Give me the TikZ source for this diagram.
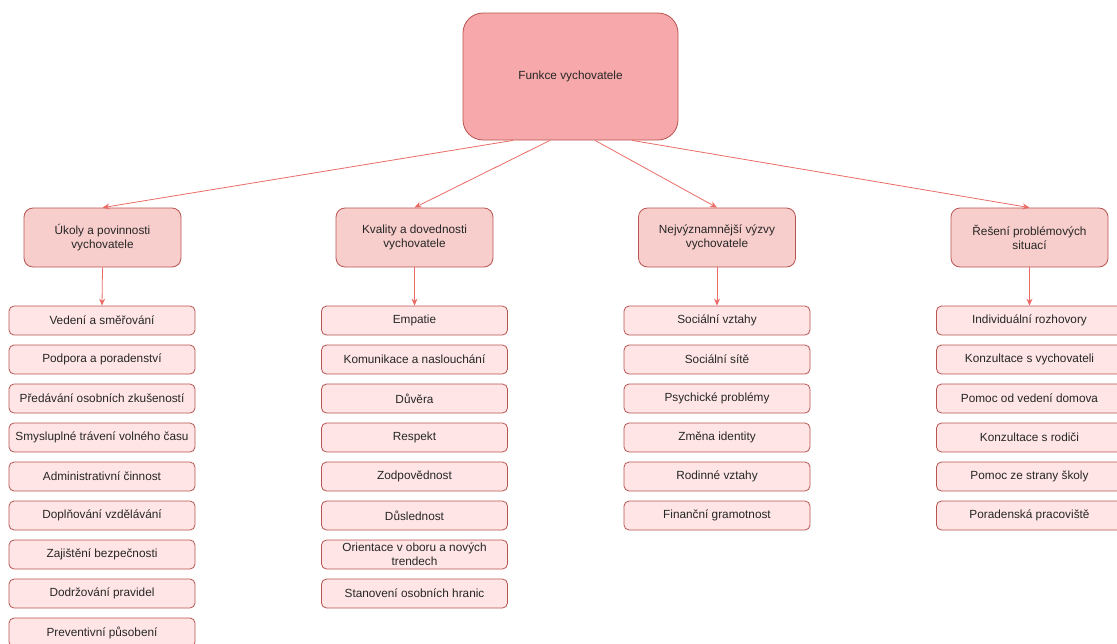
\documentclass[tikz,border=0pt]{standalone}
\usepackage{fontspec}
\setmainfont{Liberation Sans}
\usetikzlibrary{arrows.meta}
\definecolor{topfill}{HTML}{F7A8AA}
\definecolor{catfill}{HTML}{F8CECC}
\definecolor{itemfill}{HTML}{FFE5E5}
\definecolor{bord}{HTML}{B85450}
\definecolor{edgec}{HTML}{EA6B66}
\tikzset{
  topbox/.style={draw=bord, fill=topfill, rounded corners=20pt, minimum width=215pt, minimum height=127pt, inner sep=0pt, line width=0.8pt, font=\fontsize{11.8}{14}\selectfont, text=black!85},
  catbox/.style={draw=bord, fill=catfill, rounded corners=9pt, minimum width=157pt, minimum height=59pt, inner sep=0pt, align=center, line width=0.8pt, font=\fontsize{11.8}{14.5}\selectfont, text=black!85},
  itembox/.style={draw=bord, fill=itemfill, rounded corners=5pt, minimum width=186pt, minimum height=29pt, inner sep=0pt, align=center, line width=0.8pt, font=\fontsize{11.8}{14}\selectfont, text=black!85},
  edge/.style={draw=edgec, line width=0.8pt, -{Stealth[length=7pt,width=6pt]}}
}
\begin{document}
\begin{tikzpicture}[x=1pt,y=-1pt]
\useasboundingbox (0,0) rectangle (1117,643);
\clip (0,0) rectangle (1117,643);
\node[topbox] (top) at (570.5,76.5) {Funkce vychovatele};
\node[catbox] (c1) at (102.5,237.5) {Úkoly a povinnosti\\vychovatele};
\node[catbox] (c2) at (414.5,237.5) {Kvality a dovednosti\\vychovatele};
\node[catbox] (c3) at (717,237.5) {Nejvýznamnější výzvy\\vychovatele};
\node[catbox] (c4) at (1029.5,237.5) {Řešení problémových\\situací};
% column 1
\node[itembox] (a1) at (102,320.5) {Vedení a směřování};
\node[itembox] (a2) at (102,359.5) {Podpora a poradenství};
\node[itembox] (a3) at (102,398.5) {Předávání osobních zkušeností};
\node[itembox] (a4) at (102,437.5) {Smysluplné trávení volného času};
\node[itembox] (a5) at (102,476.5) {Administrativní činnost};
\node[itembox] (a6) at (102,515.5) {Doplňování vzdělávání};
\node[itembox] (a7) at (102,554.5) {Zajištění bezpečnosti};
\node[itembox] (a8) at (102,593.5) {Dodržování pravidel};
\node[itembox] (a9) at (102,632.5) {Preventivní působení};
% column 2
\node[itembox] (b1) at (414.5,320.5) {Empatie};
\node[itembox] (b2) at (414.5,359.5) {Komunikace a naslouchání};
\node[itembox] (b3) at (414.5,398.5) {Důvěra};
\node[itembox] (b4) at (414.5,437.5) {Respekt};
\node[itembox] (b5) at (414.5,476.5) {Zodpovědnost};
\node[itembox] (b6) at (414.5,515.5) {Důslednost};
\node[itembox] (b7) at (414.5,554.5) {Orientace v oboru a nových\\trendech};
\node[itembox] (b8) at (414.5,593.5) {Stanovení osobních hranic};
% column 3
\node[itembox] (d1) at (717,320.5) {Sociální vztahy};
\node[itembox] (d2) at (717,359.5) {Sociální sítě};
\node[itembox] (d3) at (717,398.5) {Psychické problémy};
\node[itembox] (d4) at (717,437.5) {Změna identity};
\node[itembox] (d5) at (717,476.5) {Rodinné vztahy};
\node[itembox] (d6) at (717,515.5) {Finanční gramotnost};
% column 4
\node[itembox] (e1) at (1029.5,320.5) {Individuální rozhovory};
\node[itembox] (e2) at (1029.5,359.5) {Konzultace s vychovateli};
\node[itembox] (e3) at (1029.5,398.5) {Pomoc od vedení domova};
\node[itembox] (e4) at (1029.5,437.5) {Konzultace s rodiči};
\node[itembox] (e5) at (1029.5,476.5) {Pomoc ze strany školy};
\node[itembox] (e6) at (1029.5,515.5) {Poradenská pracoviště};
% edges
\draw[edge] ([xshift=-57.5pt]top.south) -- (c1.north);
\draw[edge] ([xshift=-20.5pt]top.south) -- (c2.north);
\draw[edge] ([xshift=24.5pt]top.south) -- (c3.north);
\draw[edge] ([xshift=61.5pt]top.south) -- (c4.north);
\draw[edge] (c1.south) -- (a1.north);
\draw[edge] (c2.south) -- (b1.north);
\draw[edge] (c3.south) -- (d1.north);
\draw[edge] (c4.south) -- (e1.north);
\end{tikzpicture}
\end{document}
